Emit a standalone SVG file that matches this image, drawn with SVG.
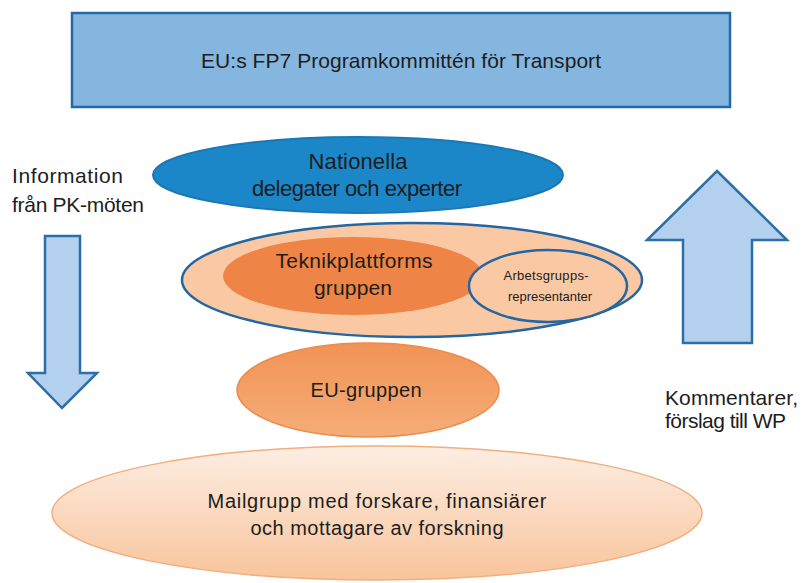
<svg xmlns="http://www.w3.org/2000/svg" width="802" height="583" viewBox="0 0 802 583">
<defs>
<linearGradient id="gMail" x1="0" y1="0" x2="0" y2="1">
<stop offset="0" stop-color="#FDEEE3"/>
<stop offset="1" stop-color="#F8C49B"/>
</linearGradient>
<linearGradient id="gEU" x1="0" y1="0" x2="0" y2="1">
<stop offset="0" stop-color="#F19355"/>
<stop offset="1" stop-color="#F5AD78"/>
</linearGradient>
<style>
text{font-family:"Liberation Sans","Open Sans",sans-serif;fill:#1d1d1d;}
.c{text-anchor:middle;}
.blue{stroke:#2466A2;stroke-width:2.5;}
.arrow{fill:#B3D1EE;stroke:#2E6EA6;stroke-width:2.5;stroke-linejoin:miter;}
</style>
</defs>
<rect width="802" height="583" fill="#FFFFFF"/>
<g id="fp7">
<rect x="72" y="13" width="658" height="94" fill="#85B6E0" stroke="#2568A6" stroke-width="2.5"/>
<text class="c" x="401" y="68" font-size="21" textLength="400">EU:s FP7 Programkommittén för Transport</text>
</g>
<g id="nationella">
<ellipse cx="358" cy="175" rx="205" ry="38" fill="#1B86C8" stroke="#1B78B5" stroke-width="2"/>
<text class="c" x="358" y="169" font-size="22" textLength="99">Nationella</text>
<text class="c" x="357" y="196" font-size="22" textLength="210">delegater och experter</text>
</g>
<g id="teknikgrupp-yttre">
<ellipse cx="412" cy="280" rx="230" ry="57" fill="#FAC9A4" class="blue"/>
</g>
<g id="teknikplattformsgruppen">
<ellipse cx="353" cy="276" rx="130" ry="39" fill="#EE8445"/>
<text class="c" x="354" y="268" font-size="21" textLength="157">Teknikplattforms</text>
<text class="c" x="353" y="295" font-size="21" textLength="78">gruppen</text>
</g>
<g id="arbetsgrupps">
<ellipse cx="548" cy="286" rx="79" ry="36" fill="#FAC9A4" class="blue"/>
<text class="c" x="546" y="280" font-size="13" textLength="85">Arbetsgrupps-</text>
<text class="c" x="550" y="301" font-size="13" textLength="84">representanter</text>
</g>
<g id="eu-gruppen">
<ellipse cx="368" cy="390" rx="131" ry="47" fill="url(#gEU)" stroke="#EE8A4B" stroke-width="1.5"/>
<text class="c" x="366" y="397" font-size="20" textLength="111">EU-gruppen</text>
</g>
<g id="mailgrupp">
<ellipse cx="377" cy="513" rx="325" ry="67" fill="url(#gMail)" stroke="#F2AE7E" stroke-width="1.5"/>
<text class="c" x="377" y="508" font-size="20" textLength="339">Mailgrupp med forskare, finansiärer</text>
<text class="c" x="377" y="535" font-size="20" textLength="253">och mottagare av forskning</text>
</g>
<g id="connectors">
<g id="pil-ned">
<polygon class="arrow" points="45,236 80,236 80,373 97,373 62,408 28,373 45,373"/>
</g>
<g id="pil-upp">
<polygon class="arrow" points="717,171 787,240 752,240 752,343 683,343 683,240 647,240"/>
</g>
</g>
<g id="label-information">
<text x="12" y="183" font-size="21" textLength="111">Information</text>
<text x="12" y="212" font-size="21" textLength="132">från PK-möten</text>
</g>
<g id="label-kommentarer">
<text x="665" y="405" font-size="21" textLength="133">Kommentarer,</text>
<text x="665" y="428" font-size="21" textLength="121">förslag till WP</text>
</g>
</svg>
